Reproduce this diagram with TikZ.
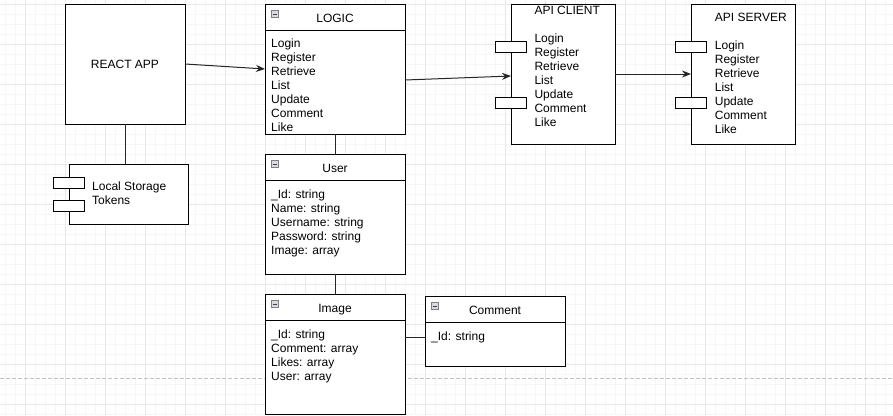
\documentclass[tikz,border=0pt]{standalone}
\usepackage{fontspec}
\setmainfont{Liberation Sans}
\usetikzlibrary{arrows.meta}

\definecolor{gridmajor}{rgb}{0.91,0.91,0.91}
\definecolor{gridminor}{rgb}{0.965,0.965,0.965}
\definecolor{pagebreak}{rgb}{0.76,0.76,0.76}
\definecolor{iconfill}{rgb}{0.84,0.86,0.89}

\tikzset{
  box/.style={draw, line width=1pt, fill=white, inner sep=0pt, outer sep=0pt, anchor=north west},
  port/.style={draw, line width=1pt, fill=white, minimum width=31pt, minimum height=11pt, inner sep=0pt},
  classtitle/.style={anchor=base, inner sep=0pt},
  classitems/.style={anchor=north west, align=left, inner sep=0pt},
  icon/.style={draw=gray, fill=iconfill, minimum size=7pt, inner sep=0pt,
    path picture={\draw[black!75, line width=1pt]
      ([xshift=-2.3pt]path picture bounding box.center) -- ([xshift=2.3pt]path picture bounding box.center);}},
  link/.style={line width=1pt, black!85},
  flow/.style={link, -{Stealth[length=9pt, width=7pt]}},
}

\begin{document}
\begin{tikzpicture}[x=1pt, y=-1pt, font=\fontsize{12}{14}\selectfont]
  \useasboundingbox (0,0) rectangle (893,415);

  % Grid background
  \foreach \x in {5,15,...,885} \draw[gridminor, line width=1pt] (\x,0) -- (\x,415);
  \foreach \y in {4,14,...,414} \draw[gridminor, line width=1pt] (0,\y) -- (893,\y);
  \foreach \x in {25,65,...,865} \draw[gridmajor, line width=1pt] (\x,0) -- (\x,415);
  \foreach \y in {4,44,...,404} \draw[gridmajor, line width=1pt] (0,\y) -- (893,\y);

  % Page break
  \draw[pagebreak, line width=1pt, dash pattern=on 4pt off 2pt] (0,378) -- (893,378);

  % REACT APP with its storage
  \node[box, minimum width=120pt, minimum height=120pt] (react) at (65,4) {REACT APP};
  \node[box, minimum width=119pt, minimum height=60pt] (storage) at (69,164) {};
  \node[port] (storageA) at ([yshift=-18.5pt]storage.north west) {};
  \node[port] (storageB) at ([yshift=-42pt]storage.north west) {};
  \node[classitems] (storagetext) at ([xshift=23pt, yshift=-17.7pt]storage.north west) {Local Storage\\Tokens};

  % LOGIC
  \node[box, minimum width=140pt, minimum height=130pt] (logic) at (265,4) {};
  \draw[line width=1pt] ([yshift=-26pt]logic.north west) -- ([yshift=-26pt]logic.north east);
  \node[icon] (logicicon) at ([xshift=10pt, yshift=-10pt]logic.north west) {};
  \node[classtitle] (logictitle) at ([yshift=-18pt]logic.north) {LOGIC};
  \node[classitems] (logicitems) at ([xshift=6pt, yshift=-35pt]logic.north west)
    {Login\\Register\\Retrieve\\List\\Update\\Comment\\Like};

  % User
  \node[box, minimum width=140pt, minimum height=120pt] (user) at (265,154) {};
  \draw[line width=1pt] ([yshift=-26pt]user.north west) -- ([yshift=-26pt]user.north east);
  \node[icon] (usericon) at ([xshift=10pt, yshift=-10pt]user.north west) {};
  \node[classtitle] (usertitle) at ([yshift=-18pt]user.north) {User};
  \node[classitems] (useritems) at ([xshift=6pt, yshift=-35.5pt]user.north west)
    {\_Id: string\\Name: string\\Username: string\\Password: string\\Image: array};

  % Image
  \node[box, minimum width=140pt, minimum height=120pt] (image) at (265,294) {};
  \draw[line width=1pt] ([yshift=-26pt]image.north west) -- ([yshift=-26pt]image.north east);
  \node[icon] (imageicon) at ([xshift=10pt, yshift=-10pt]image.north west) {};
  \node[classtitle] (imagetitle) at ([yshift=-18pt]image.north) {Image};
  \node[classitems] (imageitems) at ([xshift=6pt, yshift=-35.5pt]image.north west)
    {\_Id: string\\Comment: array\\Likes: array\\User: array};

  % Comment
  \node[box, minimum width=140pt, minimum height=70pt] (comment) at (425,296) {};
  \draw[line width=1pt] ([yshift=-26pt]comment.north west) -- ([yshift=-26pt]comment.north east);
  \node[icon] (commenticon) at ([xshift=10pt, yshift=-10pt]comment.north west) {};
  \node[classtitle] (commenttitle) at ([yshift=-18pt]comment.north) {Comment};
  \node[classitems] (commentitems) at ([xshift=6pt, yshift=-35.5pt]comment.north west) {\_Id: string};

  % API CLIENT
  \node[box, minimum width=104pt, minimum height=140pt] (client) at (511,4) {};
  \node[port] (clientA) at ([yshift=-42.7pt]client.north west) {};
  \node[port] (clientB) at ([yshift=-98.7pt]client.north west) {};
  \node[classitems] (clienttext) at ([xshift=23.3pt, yshift=-2.4pt]client.north west)
    {API CLIENT\\[14pt]Login\\Register\\Retrieve\\List\\Update\\Comment\\Like};

  % API SERVER
  \node[box, minimum width=104pt, minimum height=140pt] (server) at (691,4) {};
  \node[port] (serverA) at ([yshift=-42.7pt]server.north west) {};
  \node[port] (serverB) at ([yshift=-98.7pt]server.north west) {};
  \node[classitems] (servertext) at ([xshift=23.7pt, yshift=-9.3pt]server.north west)
    {API SERVER\\[14pt]Login\\Register\\Retrieve\\List\\Update\\Comment\\Like};

  % Connectors
  \draw[link] (react.south) -- (react.south |- storage.north);
  \draw[link] (logic.south) -- (user.north);
  \draw[link] (user.south) -- (image.north);
  \draw[link] (commentitems.west -| image.east) -- (commentitems.west -| comment.west);
  \draw[flow] (react.east) -- (logic.west);
  \draw[flow] ([yshift=-11pt]logic.east) -- ([yshift=-2pt]client.west);
  \draw[flow] (client.east) -- (server.west);

\end{tikzpicture}
\end{document}
